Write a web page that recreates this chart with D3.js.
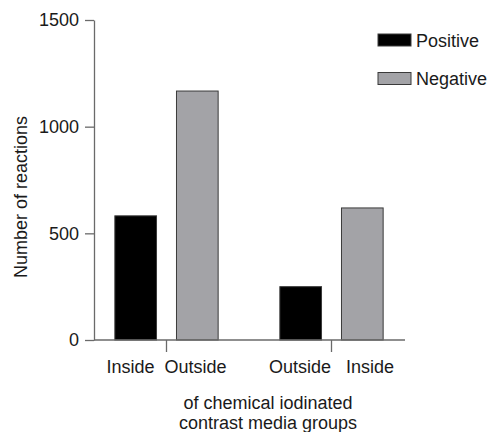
<!DOCTYPE html>
<html>
<head>
<meta charset="utf-8">
<script src="https://cdn.jsdelivr.net/npm/d3@7"></script>
<style>
  html, body { margin: 0; padding: 0; background: #fff; }
  svg text { font-family: "Liberation Sans", Arial, Helvetica, sans-serif; fill: #1a1a1a; }
</style>
</head>
<body>
<svg id="chart" width="491" height="432"></svg>
<script>
// ---- data ----
const groups = ["G1", "G2"];
const groupLabels = ["Inside  Outside", "Outside   Inside"];
const seriesNames = ["Positive", "Negative"];
const positiveValues = [582, 250];
const negativeValues = [1167, 619];
const yTicks = [0, 500, 1000, 1500];
const yLabel = "Number of reactions";
const xTitleLines = ["of chemical iodinated", "contrast media groups"];

// ---- styles ----
const colors = { Positive: "#000000", Negative: "#a3a3a7" };
const axisColor = "#6a6a6a";
const fontSize = 18;

const svg = d3.select("#chart");
const rows = groups.map((g, i) => ({ group: g, Positive: positiveValues[i], Negative: negativeValues[i] }));

const y = d3.scaleLinear().domain([0, 1500]).range([340, 20]);
const x0 = d3.scaleBand().domain(groups).range([84, 414]).paddingInner(0.374).paddingOuter(0.187);
const x1 = d3.scaleBand().domain(seriesNames).range([0, x0.bandwidth()]).paddingInner(0.324);

// bars
const g = svg.append("g");
g.selectAll("g.grp").data(rows).join("g")
  .attr("class", "grp")
  .attr("transform", d => `translate(${x0(d.group)},0)`)
  .selectAll("rect").data(d => seriesNames.map(s => ({ s, v: d[s] }))).join("rect")
  .attr("x", d => x1(d.s))
  .attr("width", x1.bandwidth())
  .attr("y", d => y(d.v))
  .attr("height", d => y(0) - y(d.v))
  .attr("fill", d => colors[d.s])
  .attr("stroke", "#3a3a3a")
  .attr("stroke-width", 1);

// y axis
const yAxis = svg.append("g").attr("transform", "translate(94,0)")
  .call(d3.axisLeft(y).tickValues(yTicks).tickFormat(d3.format("d")).tickSize(9).tickSizeOuter(0).tickPadding(6));
yAxis.select(".domain").attr("stroke", axisColor).attr("stroke-width", 1.3);
yAxis.selectAll(".tick line").attr("stroke", axisColor).attr("stroke-width", 1.3);
yAxis.selectAll(".tick text").attr("font-size", fontSize).attr("font-family", "Liberation Sans, Arial, sans-serif").attr("fill", "#1a1a1a");

// x axis
const xAxisG = svg.append("g").attr("transform", "translate(0,340)");
xAxisG.append("line").attr("x1", 94).attr("x2", 405).attr("y1", 0).attr("y2", 0)
  .attr("stroke", axisColor).attr("stroke-width", 1.3);
const xt = xAxisG.selectAll("g.xt").data(groups).join("g")
  .attr("class", "xt")
  .attr("transform", d => `translate(${x0(d) + x0.bandwidth() / 2},0)`);
xt.append("line").attr("y1", 0).attr("y2", 12).attr("stroke", axisColor).attr("stroke-width", 1.3);
xt.append("text")
  .attr("y", 33)
  .attr("text-anchor", "middle")
  .attr("font-size", fontSize)
  .style("white-space", "pre")
  .text((d, i) => groupLabels[i]);

// y label
svg.append("text")
  .attr("transform", "translate(27,197) rotate(-90)")
  .attr("text-anchor", "middle")
  .attr("font-size", fontSize)
  .text(yLabel);

// x title
svg.append("text")
  .attr("x", 268)
  .attr("text-anchor", "middle")
  .attr("font-size", fontSize)
  .selectAll("tspan").data(xTitleLines).join("tspan")
  .attr("x", 268)
  .attr("y", (d, i) => 409 + i * 19.5)
  .text(d => d);

// legend
const legend = svg.append("g");
const li = legend.selectAll("g").data(seriesNames).join("g")
  .attr("transform", (d, i) => `translate(378,${34 + i * 38.5})`);
li.append("rect").attr("width", 33).attr("height", 12)
  .attr("fill", d => colors[d]).attr("stroke", "#3a3a3a").attr("stroke-width", 1);
li.append("text").attr("x", 38).attr("y", 12.5).attr("font-size", fontSize).text(d => d);
</script>
</body>
</html>
